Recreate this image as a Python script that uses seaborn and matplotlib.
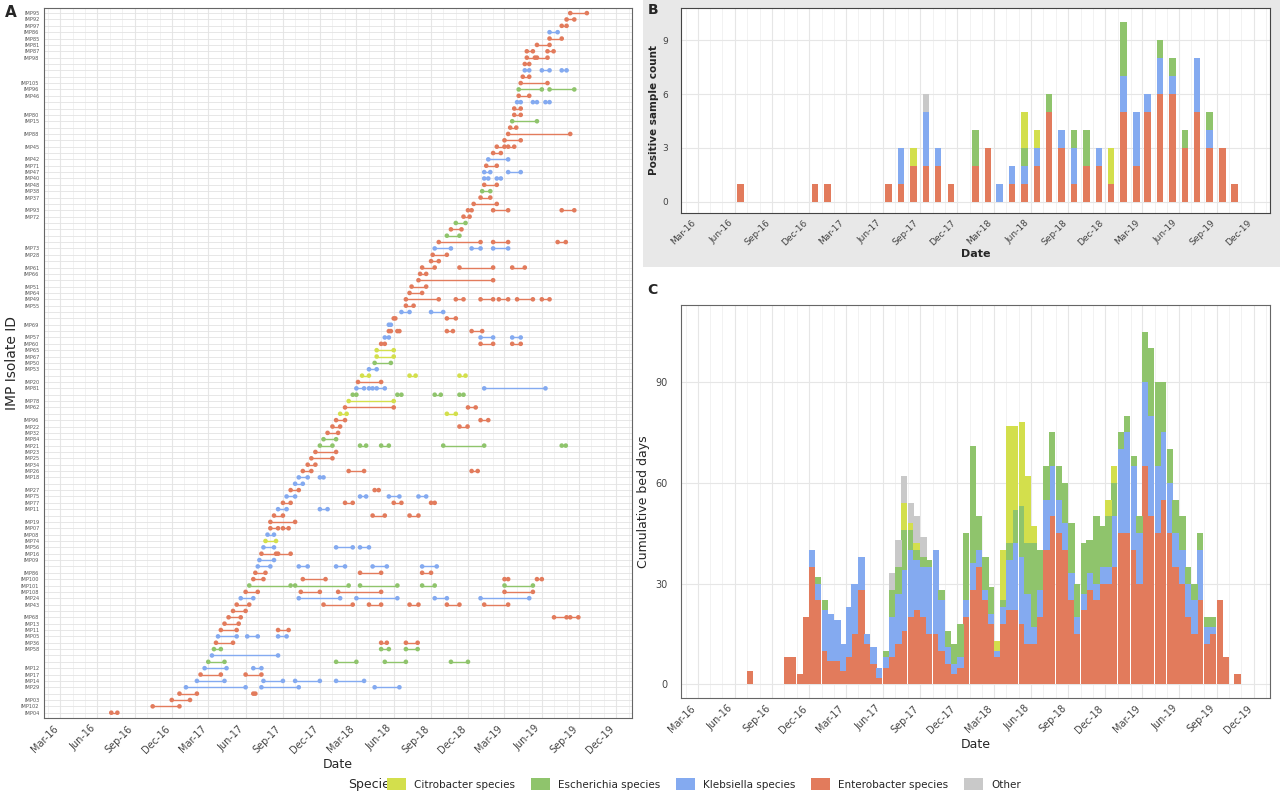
import numpy as np
import pandas as pd
import matplotlib
matplotlib.use("Agg")
import matplotlib.pyplot as plt
import matplotlib.dates as mdates
from matplotlib.patches import Patch
import seaborn as sns

sns.set_theme(style="whitegrid")
plt.rcParams['font.family'] = ['DejaVu Sans']

species_names = ["Citrobacter species", "Escherichia species", "Klebsiella species", "Enterobacter species", "Other"]
species_codes = ["C", "Es", "K", "E", "O"]
palette = {"C": "#d3df4c", "Es": "#8fc46c", "K": "#84aaf0", "E": "#e27b5c", "O": "#c9c9c9"}

# ---------------- Panel A data (bottom -> top) ----------------
a_labels = ["IMP04","IMP102","IMP03","","IMP29","IMP14","IMP17","IMP12","","","IMP58","IMP36","IMP05","IMP11","IMP13","IMP68","","IMP43","IMP24","IMP108","IMP101","IMP100","IMP86","","IMP09","IMP16","IMP56","IMP74","IMP08","IMP07","IMP19","","IMP11","IMP77","IMP75","IMP27","","IMP18","IMP26","IMP34","IMP25","IMP23","IMP21","IMP84","IMP32","IMP22","IMP96","","IMP62","IMP78","","IMP81","IMP20","","IMP53","IMP50","IMP67","IMP65","IMP60","IMP57","","IMP69","","","IMP55","IMP49","IMP64","IMP51","","IMP66","IMP61","","IMP28","IMP73","","","","","IMP72","IMP93","","IMP37","IMP38","IMP48","IMP40","IMP47","IMP71","IMP42","","IMP45","","IMP88","","IMP15","IMP80","","","IMP46","IMP96","IMP105","","","","IMP98","IMP87","IMP81","IMP85","IMP86","IMP97","IMP92","IMP95"]
a_species = ["E","E","E","E","K","K","E","K","Es","K","Es","E","K","E","E","E","E","E","K","E","Es","E","E","K","K","E","K","C","K","E","E","E","K","E","K","E","K","K","E","E","E","E","Es","Es","E","E","E","C","E","C","Es","K","E","C","K","Es","C","C","E","K","E","K","E","K","E","E","E","E","E","E","E","E","E","K","E","Es","E","Es","E","E","E","E","Es","E","K","K","E","K","E","E","E","E","E","Es","E","E","K","E","Es","E","E","K","E","E","E","E","E","K","E","E","E"]
a_segments = [
 [("16-07-05","16-07-20")],
 [("16-10-15","16-12-20")],
 [("16-12-01","17-01-15")],
 [("16-12-20","17-02-01"),("17-06-20","17-06-25")],
 [("17-01-05","17-06-01"),("17-07-10","17-10-10"),("18-04-15","18-06-15")],
 [("17-02-01","17-04-10"),("17-07-15","17-09-01"),("17-10-01","17-12-01"),("18-01-10","18-03-20")],
 [("17-02-10","17-04-01"),("17-06-01","17-07-10")],
 [("17-02-20","17-04-15"),("17-06-20","17-07-10")],
 [("17-03-01","17-04-10"),("18-01-10","18-03-01"),("18-05-10","18-07-01"),("18-10-20","18-12-01")],
 [("17-03-10","17-08-20")],
 [("17-03-15","17-04-01"),("18-05-01","18-05-20"),("18-07-01","18-07-30")],
 [("17-03-20","17-05-01"),("18-05-01","18-05-15"),("18-07-01","18-07-30")],
 [("17-03-25","17-05-10"),("17-06-05","17-07-01"),("17-08-20","17-09-10")],
 [("17-04-01","17-05-10"),("17-08-20","17-09-15")],
 [("17-04-10","17-05-15")],
 [("17-04-20","17-05-20"),("19-07-01","19-08-01"),("19-08-10","19-08-30")],
 [("17-05-01","17-06-01")],
 [("17-05-10","17-06-10"),("17-12-10","18-02-20"),("18-04-01","18-05-01"),("18-07-10","18-08-01"),("18-10-10","18-11-10"),("19-01-10","19-03-10")],
 [("17-05-20","17-06-20"),("17-10-10","18-01-20"),("18-03-01","18-06-10"),("18-09-10","18-10-10"),("19-01-01","19-05-01")],
 [("17-06-01","17-07-01"),("17-10-15","17-12-01"),("18-01-15","18-05-01"),("19-03-01","19-05-10")],
 [("17-06-10","17-09-20"),("17-10-01","18-02-10"),("18-03-10","18-06-10"),("18-08-10","18-09-10"),("19-03-01","19-05-10")],
 [("17-06-20","17-07-15"),("17-10-20","17-12-15"),("19-03-01","19-03-10"),("19-05-20","19-06-01")],
 [("17-06-25","17-07-20"),("18-03-10","18-05-01"),("18-08-10","18-09-01")],
 [("17-07-01","17-08-01"),("17-10-10","17-11-01"),("18-01-10","18-02-01"),("18-04-10","18-05-15"),("18-08-10","18-09-15")],
 [("17-07-05","17-08-10")],
 [("17-07-10","17-08-15"),("17-08-20","17-09-20")],
 [("17-07-15","17-08-10"),("18-01-10","18-02-20"),("18-03-10","18-04-01")],
 [("17-07-20","17-08-15")],
 [("17-07-25","17-08-10")],
 [("17-08-01","17-08-20"),("17-09-01","17-09-15")],
 [("17-08-01","17-10-01")],
 [("17-08-10","17-09-01"),("18-04-10","18-05-10"),("18-07-10","18-08-01")],
 [("17-08-20","17-09-10"),("17-12-01","17-12-20")],
 [("17-09-01","17-09-20"),("18-02-01","18-02-20"),("18-06-01","18-06-20"),("18-09-01","18-09-10")],
 [("17-09-10","17-10-01"),("18-03-10","18-03-25"),("18-05-20","18-06-15"),("18-08-01","18-08-20")],
 [("17-09-20","17-10-10"),("18-04-15","18-04-25")],
 [("17-10-01","17-10-20")],
 [("17-10-10","17-11-01"),("17-12-01","17-12-10")],
 [("17-10-20","17-11-10"),("18-02-10","18-03-20"),("18-12-10","18-12-25")],
 [("17-11-01","17-11-20")],
 [("17-11-10","18-01-01")],
 [("17-11-20","18-01-10")],
 [("17-12-01","18-01-01"),("18-03-10","18-03-25"),("18-05-01","18-05-20"),("18-10-01","19-01-10"),("19-07-20","19-07-30")],
 [("17-12-10","18-01-10")],
 [("17-12-20","18-01-15")],
 [("18-01-01","18-01-20"),("18-11-10","18-11-30")],
 [("18-01-10","18-02-01"),("19-01-01","19-01-20")],
 [("18-01-20","18-02-05"),("18-10-10","18-11-01")],
 [("18-02-01","18-06-01"),("18-12-01","18-12-20")],
 [("18-02-10","18-06-01")],
 [("18-02-20","18-03-01"),("18-06-10","18-06-20"),("18-09-10","18-09-25"),("18-11-10","18-11-20")],
 [("18-03-01","18-03-20"),("18-04-01","18-04-10"),("18-04-20","18-05-10"),("19-01-10","19-06-10")],
 [("18-03-05","18-05-01")],
 [("18-03-15","18-04-01"),("18-07-10","18-07-25"),("18-11-10","18-11-25")],
 [("18-04-01","18-04-20")],
 [("18-04-15","18-05-25")],
 [("18-04-20","18-06-01")],
 [("18-04-20","18-06-01")],
 [("18-05-01","18-05-10"),("19-01-01","19-02-01"),("19-03-20","19-04-10")],
 [("18-05-10","18-05-20"),("19-01-01","19-02-01"),("19-03-20","19-04-10")],
 [("18-05-20","18-05-25"),("18-06-10","18-06-15"),("18-10-10","18-10-25"),("18-12-10","19-01-05")],
 [("18-05-20","18-05-25")],
 [("18-06-01","18-06-05"),("18-10-10","18-11-01")],
 [("18-06-20","18-07-10"),("18-09-01","18-10-01")],
 [("18-07-01","18-07-20")],
 [("18-07-01","18-09-20"),("18-11-01","18-11-20"),("19-01-01","19-02-01"),("19-02-15","19-03-10"),("19-04-01","19-05-10"),("19-06-01","19-06-20")],
 [("18-07-10","18-08-10")],
 [("18-07-15","18-08-20")],
 [("18-08-01","19-02-01")],
 [("18-08-05","18-08-20")],
 [("18-08-10","18-09-10"),("18-11-10","19-02-01"),("19-03-20","19-04-20")],
 [("18-09-01","18-09-20")],
 [("18-09-05","18-10-10")],
 [("18-09-10","18-10-20"),("18-12-10","19-01-01"),("19-02-01","19-03-10")],
 [("18-09-20","19-01-01"),("19-02-01","19-03-10"),("19-07-10","19-07-30")],
 [("18-10-10","18-11-10")],
 [("18-10-20","18-11-15")],
 [("18-11-01","18-11-25")],
 [("18-11-20","18-12-05")],
 [("18-12-01","18-12-10"),("19-02-01","19-03-10"),("19-07-20","19-08-20")],
 [("18-12-15","19-02-10")],
 [("19-01-01","19-01-25")],
 [("19-01-05","19-01-25")],
 [("19-01-10","19-02-10")],
 [("19-01-10","19-01-20"),("19-02-10","19-02-20")],
 [("19-01-10","19-01-25"),("19-03-10","19-04-10")],
 [("19-01-15","19-02-10")],
 [("19-01-20","19-03-10")],
 [("19-02-01","19-02-20")],
 [("19-02-10","19-03-01"),("19-03-10","19-03-25")],
 [("19-03-01","19-04-10")],
 [("19-03-10","19-08-10")],
 [("19-03-15","19-03-30")],
 [("19-03-20","19-05-20")],
 [("19-03-25","19-04-10")],
 [("19-03-25","19-04-10")],
 [("19-04-01","19-04-10"),("19-05-10","19-05-20"),("19-06-10","19-06-20")],
 [("19-04-05","19-05-01")],
 [("19-04-05","19-06-01"),("19-06-20","19-08-20")],
 [("19-04-10","19-06-15")],
 [("19-04-15","19-05-01")],
 [("19-04-20","19-05-01"),("19-06-01","19-06-20"),("19-07-20","19-08-01")],
 [("19-04-20","19-05-01")],
 [("19-04-25","19-05-15"),("19-05-20","19-06-15")],
 [("19-04-25","19-05-10"),("19-06-15","19-06-30")],
 [("19-05-20","19-06-20")],
 [("19-06-20","19-07-20")],
 [("19-06-20","19-07-10")],
 [("19-07-20","19-08-01")],
 [("19-08-01","19-08-20")],
 [("19-08-10","19-09-20")],
]

# ---------------- Panel B data (monthly first-positive counts) ----------------
b_months = ["2016-06","2016-12","2017-01","2017-06","2017-07","2017-08","2017-09","2017-10","2017-11",
            "2018-01","2018-02","2018-03","2018-04","2018-05","2018-06","2018-07","2018-08","2018-09",
            "2018-10","2018-11","2018-12","2019-01","2019-02","2019-03","2019-04","2019-05","2019-06",
            "2019-07","2019-08","2019-09","2019-10"]
b_E  = [1,1,1,1,1,2,2,2,1, 2,3,0,1,1,2,5,3,1,2,2,1,5,2,5,6,6,3,5,3,3,1]
b_K  = [0,0,0,0,2,0,3,1,0, 0,0,1,1,1,1,0,1,2,0,1,0,2,3,1,2,1,0,3,1,0,0]
b_Es = [0,0,0,0,0,0,0,0,0, 2,0,0,0,1,0,1,0,1,2,0,0,3,0,0,1,1,1,0,1,0,0]
b_C  = [0,0,0,0,0,1,0,0,0, 0,0,0,0,2,1,0,0,0,0,0,2,0,0,0,0,0,0,0,0,0,0]
b_O  = [0,0,0,0,0,0,1,0,0, 0,0,0,0,0,0,0,0,0,0,0,0,0,0,0,0,0,0,0,0,0,0]

# ---------------- Panel C data (half-monthly cumulative bed days) ----------------
c_start = "2016-07-01"
c_E  = [4,0,0,0,0,0,8,8,3,20,35,25,
        10,7,7,4,8,15,28,12,6,2,5,8,12,16,20,22,20,15,15,10,6,3,5,20,
        28,35,25,18,8,18,22,22,18,12,12,20,40,50,45,40,25,15,22,28,25,30,30,35,
        45,45,40,30,65,50,45,55,45,35,30,20,15,25,12,15,25,8,0,3]
c_K  = [0,0,0,0,0,0,0,0,0,0,5,5,
        12,14,12,8,15,15,10,3,5,3,3,12,15,18,20,15,15,20,25,15,5,3,3,5,
        8,5,3,3,2,5,15,20,20,15,5,8,15,15,10,8,8,5,5,5,5,5,5,15,
        25,30,25,15,25,30,20,20,15,10,10,10,10,15,5,2,0,0,0,0]
c_Es = [0,0,0,0,0,0,0,0,0,0,0,2,
        3,0,0,0,0,0,0,0,0,0,2,8,8,12,6,3,3,2,0,3,5,6,10,20,
        35,10,10,8,0,2,5,10,15,15,25,12,10,10,10,12,15,10,15,10,20,12,15,10,
        5,5,3,5,15,20,25,15,10,10,10,5,5,5,3,3,0,0,0,0]
c_C  = [0]*12 + [0,0,0,0,0,0,0,0,0,0,0,0,0,8,2,2,0,0,0,0,0,0,0,0] + \
       [0,0,0,0,3,15,35,25,25,20,5,0,0,0,0,0,0,0,0,0,0,0,5,5] + [0]*20
c_O  = [0]*12 + [0,0,0,0,0,0,0,0,0,0,0,5,8,8,6,8,6,0,0,0,0,0,0,0] + [0]*24 + [0]*20

# ---------------- figure ----------------
fig = plt.figure(figsize=(12.8, 8.02), dpi=100)
fig.patch.set_facecolor("white")

xmin, xmax = pd.Timestamp("2016-01-20"), pd.Timestamp("2020-01-10")
tick_dates = pd.date_range("2016-03-01", "2019-12-01", freq="3MS")

def style_date_axis(ax, fs=7):
    ax.set_xlim(xmin, xmax)
    ax.set_xticks(tick_dates)
    ax.xaxis.set_major_formatter(mdates.DateFormatter("%b-%y"))
    ax.xaxis.set_minor_locator(mdates.MonthLocator())
    for lab in ax.get_xticklabels():
        lab.set_rotation(45); lab.set_ha("right"); lab.set_fontsize(fs); lab.set_color("#444444")
    ax.tick_params(axis="x", which="major", length=3, color="#333333", pad=1)
    ax.grid(True, which="major", color="#e6e6e6", lw=0.8)
    ax.grid(True, which="minor", axis="x", color="#f0f0f0", lw=0.6)

# Panel B grey background
bg = fig.add_axes([0.502, 0.667, 0.498, 0.333])
bg.set_facecolor("#e8e8e8")
bg.set_xticks([]); bg.set_yticks([]); bg.grid(False)
for s in bg.spines.values():
    s.set_visible(False)
bg.set_zorder(0)

# Panel A
axA = fig.add_axes([0.034, 0.105, 0.46, 0.885])
axA.set_facecolor("white")
rows = []
for i, (lab, sp, segs) in enumerate(zip(a_labels, a_species, a_segments)):
    for s, e in segs:
        ds, de = pd.Timestamp("20" + s), pd.Timestamp("20" + e)
        axA.plot([ds, de], [i, i], color=palette[sp], lw=1.0, zorder=2)
        rows.append({"date": ds, "row": i, "sp": sp})
        rows.append({"date": de, "row": i, "sp": sp})
dfA = pd.DataFrame(rows)
sns.scatterplot(data=dfA, x="date", y="row", hue="sp", palette=palette, s=11,
                linewidth=0, legend=False, ax=axA, zorder=3)
style_date_axis(axA)
axA.set_ylim(-0.8, len(a_labels) - 0.2)
axA.set_yticks(range(len(a_labels)))
axA.set_yticklabels(a_labels, fontsize=3.6, color="#555555")
axA.tick_params(axis="y", length=2, pad=1)
axA.grid(True, axis="y", color="#e3e3e3", lw=0.6)
axA.set_xlabel("Date", fontsize=9, labelpad=2)
axA.set_ylabel("IMP Isolate ID", fontsize=10, labelpad=1)
for sp in axA.spines.values():
    sp.set_color("#666666"); sp.set_linewidth(0.8)
fig.text(0.004, 0.984, "A", fontsize=11, fontweight="bold", va="center")

# Panel B
axB = fig.add_axes([0.532, 0.735, 0.46, 0.255])
axB.set_zorder(2)
axB.set_facecolor("white")
bdates = pd.to_datetime(b_months) + pd.Timedelta(days=14)
bottom = np.zeros(len(b_months))
for code, vals in [("E", b_E), ("K", b_K), ("Es", b_Es), ("C", b_C), ("O", b_O)]:
    v = np.array(vals, dtype=float)
    axB.bar(bdates, v, bottom=bottom, width=16, color=palette[code], linewidth=0, zorder=3)
    bottom += v
style_date_axis(axB, fs=6.5)
axB.set_ylim(-0.6, 10.8)
axB.set_yticks([0, 3, 6, 9])
axB.tick_params(axis="y", labelsize=6.5, labelcolor="#444444")
axB.set_xlabel("Date", fontsize=8, fontweight="bold", labelpad=1)
axB.set_ylabel("Positive sample count", fontsize=7.5, fontweight="bold", labelpad=2)
for sp in axB.spines.values():
    sp.set_color("#444444"); sp.set_linewidth(0.8)
fig.text(0.506, 0.983, "B", fontsize=10, fontweight="bold", zorder=5)

# Panel C
axC = fig.add_axes([0.532, 0.13, 0.46, 0.49])
axC.set_facecolor("white")
cdates = pd.date_range(c_start, periods=len(c_E), freq="SMS")
bottom = np.zeros(len(c_E))
for code, vals in [("E", c_E), ("K", c_K), ("Es", c_Es), ("C", c_C), ("O", c_O)]:
    v = np.array(vals, dtype=float)
    axC.bar(cdates, v, bottom=bottom, width=15.5, align="edge", color=palette[code], linewidth=0, zorder=3)
    bottom += v
style_date_axis(axC, fs=7)
axC.set_ylim(-4, 113)
axC.set_yticks([0, 30, 60, 90])
axC.tick_params(axis="y", labelsize=7, labelcolor="#444444")
axC.set_xlabel("Date", fontsize=9, labelpad=2)
axC.set_ylabel("Cumulative bed days", fontsize=9, labelpad=4)
for sp in axC.spines.values():
    sp.set_color("#666666"); sp.set_linewidth(0.8)
fig.text(0.506, 0.633, "C", fontsize=10, fontweight="bold")

# Legend
handles = [Patch(facecolor=palette[c], edgecolor="none", label=n) for c, n in zip(species_codes, species_names)]
fig.legend(handles=handles, loc="center", bbox_to_anchor=(0.55, 0.022), ncol=5, frameon=False,
           fontsize=7.5, handlelength=1.8, handleheight=1.4, columnspacing=1.5)
fig.text(0.272, 0.022, "Species", fontsize=9, va="center")

fig.savefig("out.png", dpi=100)
